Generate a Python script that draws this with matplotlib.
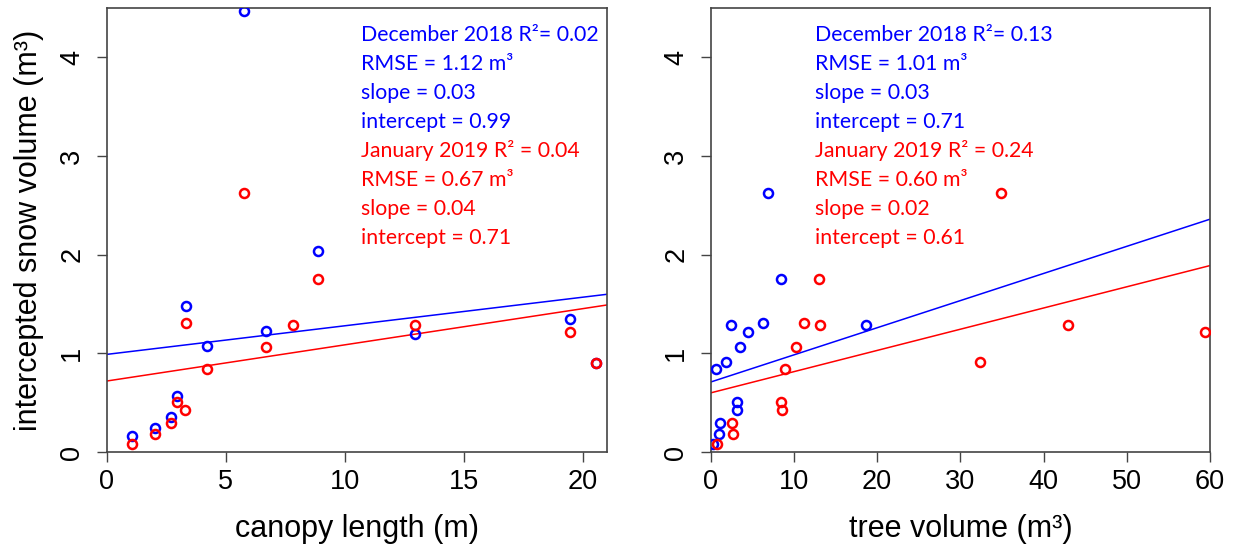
import numpy as np
import matplotlib
matplotlib.use("Agg")
from matplotlib import pyplot as plt

# ---- data ----
# left panel: canopy length (m)
canopy_dec = [5.78, 8.89, 3.33, 6.69, 4.23, 12.96, 19.43, 20.55, 2.97, 2.72, 2.04, 1.08]
snow_dec_l = [4.47, 2.04, 1.48, 1.23, 1.08, 1.20, 1.35, 0.90, 0.57, 0.36, 0.24, 0.16]
canopy_jan = [5.78, 8.89, 3.33, 7.80, 12.96, 6.69, 19.43, 4.23, 20.55, 2.97, 3.29, 2.72, 2.04, 1.08]
snow_jan_l = [2.63, 1.75, 1.31, 1.29, 1.29, 1.06, 1.22, 0.84, 0.90, 0.51, 0.43, 0.29, 0.18, 0.08]

# right panel: tree volume (m3)
treevol_dec = [6.88, 8.40, 2.40, 6.28, 4.44, 18.72, 3.56, 1.84, 0.68, 3.16, 3.16, 1.16, 1.04, 0.32]
snow_dec_r = [2.63, 1.75, 1.29, 1.31, 1.22, 1.29, 1.06, 0.91, 0.84, 0.51, 0.43, 0.29, 0.18, 0.08]
treevol_jan = [34.88, 13.0, 11.16, 13.16, 42.88, 59.36, 10.28, 32.32, 8.88, 8.40, 8.56, 2.56, 2.68, 0.80]
snow_jan_r = [2.63, 1.75, 1.31, 1.29, 1.29, 1.22, 1.06, 0.91, 0.84, 0.51, 0.43, 0.29, 0.18, 0.08]

# fitted lines (intercept, slope) as drawn
fit_left = {"dec": (0.99, 0.029), "jan": (0.72, 0.0367)}
fit_right = {"dec": (0.71, 0.0275), "jan": (0.60, 0.0215)}

text_left = ["December 2018 R²= 0.02", "RMSE = 1.12 m³", "slope = 0.03", "intercept = 0.99",
             "January 2019 R² = 0.04", "RMSE = 0.67 m³", "slope = 0.04", "intercept = 0.71"]
text_right = ["December 2018 R²= 0.13", "RMSE = 1.01 m³", "slope = 0.03", "intercept = 0.71",
              "January 2019 R² = 0.24", "RMSE = 0.60 m³", "slope = 0.02", "intercept = 0.61"]

BLUE = "#0000FF"
RED = "#FF0000"

plt.rcParams['font.family'] = ['Liberation Sans', 'DejaVu Sans']

fig = plt.figure(figsize=(12.39, 5.52), dpi=100)
ax1 = fig.add_axes([0.0861, 0.181, 0.4038, 0.8045])
ax2 = fig.add_axes([0.5736, 0.181, 0.4030, 0.8045])


def panel(ax, xd, yd, xj, yj, fit, lines, xmax, xticks, xlabel, tx):
    ax.plot(xd, yd, 'o', ms=6.5, mfc='none', mec=BLUE, mew=1.8, zorder=3)
    ax.plot(xj, yj, 'o', ms=6.5, mfc='none', mec=RED, mew=1.8, zorder=3)
    b, m = fit["dec"]
    ax.axline((0, b), slope=m, color=BLUE, lw=1.1)
    b, m = fit["jan"]
    ax.axline((0, b), slope=m, color=RED, lw=1.1)
    ax.set_xlim(0, xmax)
    ax.set_ylim(0, 4.5)
    ax.set_xticks(xticks)
    ax.set_yticks([0, 1, 2, 3, 4])
    ax.tick_params(axis='x', length=7.5, width=1, color='#444444', pad=5, labelsize=19.5)
    ax.tick_params(axis='y', length=7.5, width=1, color='#444444', pad=8, labelsize=19.5)
    for lab in ax.get_yticklabels():
        lab.set_rotation(90)
        lab.set_va('center')
    for s in ax.spines.values():
        s.set_color('#444444')
        s.set_linewidth(1.2)
    ax.set_xlabel(xlabel, fontsize=22, labelpad=13)
    # stats text, one line at a time
    for i, t in enumerate(lines):
        ax.text(tx, 0.940 - i * 0.0653, t, transform=ax.transAxes,
                color=BLUE if i < 4 else RED, fontsize=15.3, va='center', ha='left',
                family=['Lato', 'DejaVu Sans'])


panel(ax1, canopy_dec, snow_dec_l, canopy_jan, snow_jan_l, fit_left, text_left,
      21, [0, 5, 10, 15, 20], "canopy length (m)", 0.508)
panel(ax2, treevol_dec, snow_dec_r, treevol_jan, snow_jan_r, fit_right, text_right,
      60, [0, 10, 20, 30, 40, 50, 60], "tree volume (m³)", 0.209)

ax1.set_ylabel("intercepted snow volume (m³)", fontsize=22, labelpad=11)

fig.savefig("out.png", dpi=100)
